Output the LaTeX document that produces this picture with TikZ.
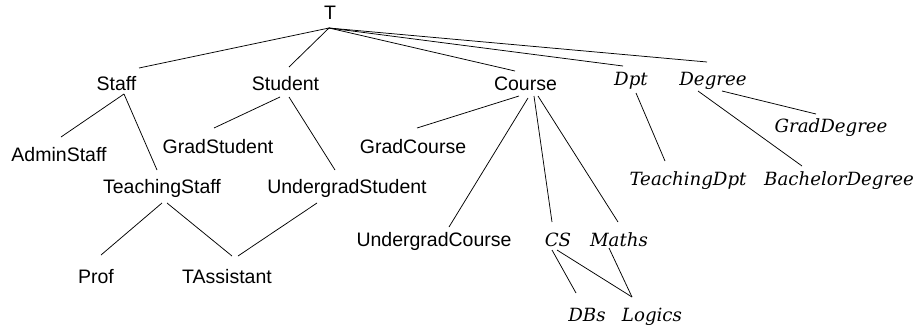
\documentclass[tikz,border=0pt]{standalone}
\usepackage{fontspec}
\setsansfont{Liberation Sans}
\newfontfamily\itfont{DejaVu Serif}
\begin{document}
\begin{tikzpicture}[x=1pt,y=-1pt,
  sf/.style={font=\sffamily\fontsize{19.5}{21}\selectfont, inner sep=0pt, anchor=base},
  it/.style={font=\itfont\itshape\fontsize{18.2}{19}\selectfont, inner sep=0pt, anchor=base},
  edge/.style={draw=black, line width=0.75pt}]
\useasboundingbox[fill=white] (0,0) rectangle (915,330);
% nodes
\node[sf] (T) at (330,19) {T};
\node[sf] (Staff) at (116.5,90.5) {Staff};
\node[sf] (Student) at (285.5,90.5) {Student};
\node[sf] (Course) at (525.5,90.5) {Course};
\node[it] (Dpt) at (631,85) {Dpt};
\node[it] (Degree) at (713,85) {Degree};
\node[sf] (AdminStaff) at (59,161.5) {AdminStaff};
\node[sf] (GradStudent) at (218,153) {GradStudent};
\node[sf] (GradCourse) at (413,153) {GradCourse};
\node[it] (GradDegree) at (831,132) {GradDegree};
\node[sf] (TeachingStaff) at (162,193) {TeachingStaff};
\node[sf] (UndergradStudent) at (347,193) {UndergradStudent};
\node[it] (TeachingDpt) at (688,185) {TeachingDpt};
\node[it] (BachelorDegree) at (839,185) {BachelorDegree};
\node[sf] (UndergradCourse) at (434,246) {UndergradCourse};
\node[it] (CS) at (558,246) {CS};
\node[it] (Maths) at (619,246) {Maths};
\node[sf] (Prof) at (96,283) {Prof};
\node[sf] (TAssistant) at (227,283) {TAssistant};
\node[it] (DBs) at (587,321) {DBs};
\node[it] (Logics) at (652,321) {Logics};
% edges
\draw[edge] ([shift={(-1,9)}]T.base) -- ([shift={(22.5,-22.5)}]Staff.base);
\draw[edge] ([shift={(-1,9)}]T.base) -- ([shift={(3.5,-23.5)}]Student.base);
\draw[edge] ([shift={(-1,9)}]T.base) -- ([shift={(-10.5,-19.5)}]Course.base);
\draw[edge] ([shift={(-1,9)}]T.base) -- ([shift={(-8,-19)}]Dpt.base);
\draw[edge] ([shift={(-1,9)}]T.base) -- ([shift={(-6,-23)}]Degree.base);
\draw[edge] ([shift={(7.5,3.5)}]Staff.base) -- ([shift={(2,-24.5)}]AdminStaff.base);
\draw[edge] ([shift={(7.5,3.5)}]Staff.base) -- ([shift={(-5,-23)}]TeachingStaff.base);
\draw[edge] ([shift={(-5.5,6.5)}]Student.base) -- ([shift={(-4,-25)}]GradStudent.base);
\draw[edge] ([shift={(3.5,6.5)}]Student.base) -- ([shift={(-12,-23)}]UndergradStudent.base);
\draw[edge] ([shift={(-6.5,5.5)}]Course.base) -- ([shift={(4,-25)}]GradCourse.base);
\draw[edge] ([shift={(2.5,7.5)}]Course.base) -- ([shift={(15,-19)}]UndergradCourse.base);
\draw[edge] ([shift={(8.5,5.5)}]Course.base) -- ([shift={(-6,-24)}]CS.base);
\draw[edge] ([shift={(12.5,5.5)}]Course.base) -- ([shift={(-1,-24)}]Maths.base);
\draw[edge] ([shift={(5,8)}]Dpt.base) -- ([shift={(-23,-24)}]TeachingDpt.base);
\draw[edge] ([shift={(-15,6)}]Degree.base) -- ([shift={(-37,-19)}]BachelorDegree.base);
\draw[edge] ([shift={(9,6)}]Degree.base) -- ([shift={(-15,-18)}]GradDegree.base);
\draw[edge] ([shift={(0,10)}]TeachingStaff.base) -- ([shift={(5,-28)}]Prof.base);
\draw[edge] ([shift={(5,10)}]TeachingStaff.base) -- ([shift={(5,-27)}]TAssistant.base);
\draw[edge] ([shift={(-30,10)}]UndergradStudent.base) -- ([shift={(11,-27)}]TAssistant.base);
\draw[edge] ([shift={(-6,4)}]CS.base) -- ([shift={(-11,-28)}]DBs.base);
\draw[edge] ([shift={(-1,4)}]CS.base) -- ([shift={(-20,-24)}]Logics.base);
\draw[edge] ([shift={(-10,2)}]Maths.base) -- ([shift={(-20,-24)}]Logics.base);
\end{tikzpicture}
\end{document}
